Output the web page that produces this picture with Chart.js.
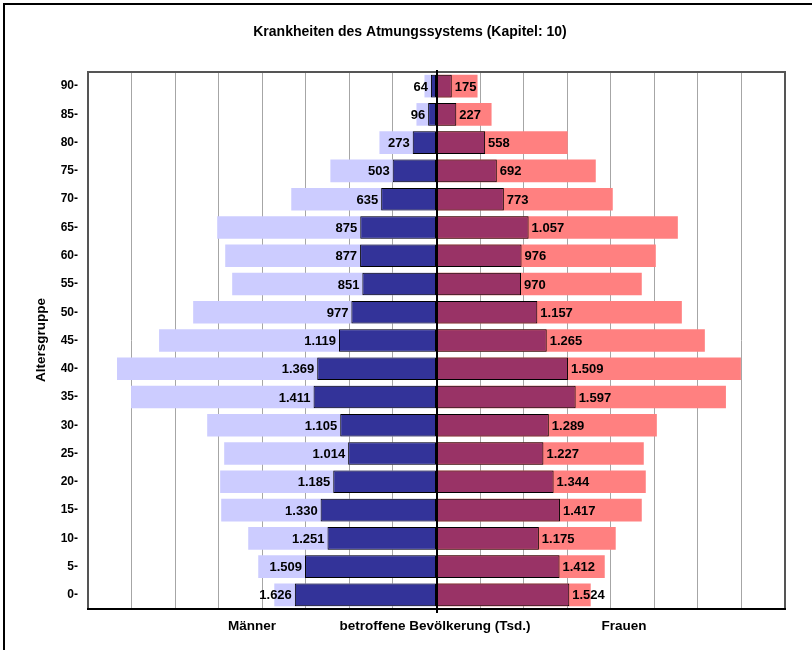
<!DOCTYPE html>
<html>
<head>
<meta charset="utf-8">
<script src="https://cdn.jsdelivr.net/npm/chart.js@4.4.1/dist/chart.umd.min.js"></script>
<style>
  html, body { margin: 0; padding: 0; background: #fff; }
  #wrap { width: 812px; height: 650px; position: relative; }
</style>
</head>
<body>
<div id="wrap"><canvas id="c" width="812" height="650"></canvas></div>
<script>
// Age groups, top to bottom
const ageGroups = ['90-','85-','80-','75-','70-','65-','60-','55-','50-','45-','40-','35-','30-','25-','20-','15-','10-','5-','0-'];
// Affected population (Tsd.) - labelled dark bars
const menAffected   = [64, 96, 273, 503, 635, 875, 877, 851, 977, 1119, 1369, 1411, 1105, 1014, 1185, 1330, 1251, 1509, 1626];
const womenAffected = [175, 227, 558, 692, 773, 1057, 976, 970, 1157, 1265, 1509, 1597, 1289, 1227, 1344, 1417, 1175, 1412, 1524];
// Total population (Tsd.) - light background bars
const menPopulation   = [138, 230, 655, 1218, 1667, 2517, 2425, 2345, 2793, 3184, 3667, 3506, 2632, 2437, 2483, 2471, 2161, 2046, 1862];
const womenPopulation = [471, 632, 1506, 1828, 2023, 2770, 2517, 2356, 2816, 3080, 3494, 3322, 2529, 2379, 2402, 2356, 2057, 1931, 1770];

const chartTitle = 'Krankheiten des Atmungssystems (Kapitel: 10)';
const yTitle = 'Altersgruppe';
const xLabelLeft = 'Männer';
const xLabelCenter = 'betroffene Bevölkerung (Tsd.)';
const xLabelRight = 'Frauen';

const FONT = '"Liberation Sans", Arial, sans-serif';

function fmtDE(v) {
  const s = String(Math.round(Math.abs(v)));
  return s.replace(/\B(?=(\d{3})+(?!\d))/g, '.');
}

const decorPlugin = {
  id: 'decor',
  beforeDraw(chart) {
    const ctx = chart.ctx;
    ctx.save();
    ctx.fillStyle = '#fff';
    ctx.fillRect(0, 0, chart.width, chart.height);
    ctx.restore();
  },
  afterDatasetsDraw(chart) {
    const ctx = chart.ctx;
    const area = chart.chartArea;
    const xs = chart.scales.x;
    ctx.save();
    // data labels on the dark bars
    ctx.font = 'bold 13px ' + FONT;
    ctx.fillStyle = '#000';
    ctx.textBaseline = 'middle';
    [0, 1].forEach(di => {
      const meta = chart.getDatasetMeta(di);
      const vals = di === 0 ? menAffected : womenAffected;
      meta.data.forEach((el, i) => {
        if (di === 0) {
          ctx.textAlign = 'right';
          ctx.fillText(fmtDE(vals[i]), el.x - 3, el.y + 1);
        } else {
          ctx.textAlign = 'left';
          ctx.fillText(fmtDE(vals[i]), el.x + 3, el.y + 1);
        }
      });
    });
    // plot border
    ctx.strokeStyle = '#555';
    ctx.lineWidth = 2;
    ctx.beginPath();
    ctx.moveTo(area.left, area.bottom);
    ctx.lineTo(area.left, area.top);
    ctx.lineTo(area.right, area.top);
    ctx.lineTo(area.right, area.bottom);
    ctx.stroke();
    ctx.strokeStyle = '#000';
    ctx.beginPath();
    ctx.moveTo(area.left - 1, area.bottom);
    ctx.lineTo(area.right + 1, area.bottom);
    ctx.stroke();
    // center line
    const x0 = Math.round(xs.getPixelForValue(0));
    ctx.beginPath();
    ctx.moveTo(x0, area.top - 2);
    ctx.lineTo(x0, area.bottom + 4);
    ctx.stroke();
    ctx.restore();
  },
  afterDraw(chart) {
    const ctx = chart.ctx;
    ctx.save();
    // outer frame
    ctx.strokeStyle = '#000';
    ctx.lineWidth = 2;
    ctx.strokeRect(4, 4, 820, 660);
    ctx.fillStyle = '#000';
    // title
    ctx.font = 'bold 14px ' + FONT;
    ctx.textAlign = 'center';
    ctx.textBaseline = 'middle';
    ctx.fillText(chartTitle, 410, 32);
    // bottom labels
    ctx.font = 'bold 13.5px ' + FONT;
    ctx.fillText(xLabelLeft, 252, 626);
    ctx.fillText(xLabelCenter, 435, 626);
    ctx.fillText(xLabelRight, 624, 626);
    // y title
    ctx.translate(41, 340);
    ctx.rotate(-Math.PI / 2);
    ctx.fillText(yTitle, 0, 0);
    ctx.restore();
  }
};

new Chart(document.getElementById('c'), {
  type: 'bar',
  data: {
    labels: ageGroups,
    datasets: [
      { label: 'Männer betroffen', data: menAffected.map(v => -v), backgroundColor: '#333399', borderColor: '#000', borderWidth: 1, borderSkipped: false, order: 0 },
      { label: 'Frauen betroffen', data: womenAffected, backgroundColor: '#993366', borderColor: '#000', borderWidth: 1, borderSkipped: false, order: 0 },
      { label: 'Männer', data: menPopulation.map(v => -v), backgroundColor: '#CCCCFF', borderWidth: 0, order: 1 },
      { label: 'Frauen', data: womenPopulation, backgroundColor: '#FF8080', borderWidth: 0, order: 1 }
    ]
  },
  options: {
    indexAxis: 'y',
    responsive: false,
    devicePixelRatio: 1,
    animation: false,
    layout: { padding: { left: 0, top: 72, right: 27, bottom: 0 } },
    datasets: { bar: { grouped: false, barPercentage: 0.8, categoryPercentage: 1.0 } },
    plugins: { legend: { display: false }, title: { display: false }, tooltip: { enabled: false } },
    scales: {
      x: {
        min: -4000, max: 4000,
        ticks: { display: false, stepSize: 500 },
        grid: { color: '#a6a6a6', lineWidth: 1, drawTicks: false },
        border: { display: false },
        afterFit(scale) { scale.height = 41; }
      },
      y: {
        ticks: { color: '#000', font: { family: FONT, size: 12, weight: 'bold' }, padding: 10 },
        grid: { display: false, drawTicks: false },
        border: { display: false },
        afterFit(scale) { scale.width = 88; }
      }
    }
  },
  plugins: [decorPlugin]
});
</script>
</body>
</html>
